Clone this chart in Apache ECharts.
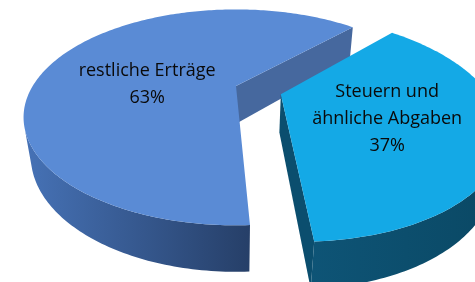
<!DOCTYPE html>
<html>
<head>
<meta charset="utf-8">
<script src="https://cdn.jsdelivr.net/npm/echarts@6/dist/echarts.min.js"></script>
<style>
html, body { margin: 0; padding: 0; background: #fff; }
#main { width: 475px; height: 282px; }
</style>
</head>
<body>
<div id="main"></div>
<script>
var categories = ['restliche Erträge', 'Steuern und\nähnliche Abgaben'];
var values = [63, 37];
var explode = [0, 0.23];

var topColors = ['#5a8bd5', '#14a9e6'];
var sideColors = [['#4672b6', '#263f68'], ['#0e5476', '#0a4864']];
var cutColors = ['#46689e', '#0b4e6e'];

// fake 3d camera (perspective pie like excel)
var cam = { cx: 236, cy: 86, fx: 618, fy: 640, d: 3.04, elev: 28 * Math.PI / 180, h: 0.21 };
var startAngle = 46;
var labelR = [0.45, 0.5];
var labelShift = [[-7, 13], [1, 5]];

function project(X, Y, Z) {
	var s = Math.sin(cam.elev), c = Math.cos(cam.elev);
	var yv = Y * c + Z * s;
	var zv = -Y * s + Z * c;
	var w = cam.d + zv;
	return [cam.cx + cam.fx * X / w, cam.cy - cam.fy * yv / w];
}

var camPos = [0, cam.d * Math.sin(cam.elev), -cam.d * Math.cos(cam.elev)];

function rad(a) { return a * Math.PI / 180; }

function renderItem(params, api) {
	var idx = params.dataIndex;
	var total = 0, before = 0;
	for (var i = 0; i < values.length; i++) {
		total += values[i];
		if (i < idx) before += values[i];
	}
	var v = api.value(0);
	var a0 = startAngle + 360 * before / total;
	var a1 = a0 + 360 * v / total;
	var mid = rad((a0 + a1) / 2);
	var ox = explode[idx] * Math.cos(mid), oz = explode[idx] * Math.sin(mid);
	var h = cam.h;
	var children = [];

	// radial cut walls
	var edges = [
		{ a: rad(a0), n: [Math.sin(rad(a0)), -Math.cos(rad(a0))] },
		{ a: rad(a1), n: [-Math.sin(rad(a1)), Math.cos(rad(a1))] }
	];
	edges.forEach(function (e) {
		var dot = e.n[0] * (camPos[0] - ox) + e.n[1] * (camPos[2] - oz);
		if (dot <= 0) return;
		var ex = ox + Math.cos(e.a), ez = oz + Math.sin(e.a);
		children.push({
			type: 'polygon',
			shape: { points: [project(ox, 0, oz), project(ex, 0, ez), project(ex, -h, ez), project(ox, -h, oz)] },
			style: { fill: cutColors[idx] }
		});
	});

	// outer wall, only parts that face the camera
	var steps = Math.ceil(a1 - a0);
	var run = null, runs = [];
	for (var k = 0; k <= steps; k++) {
		var t = rad(a0 + (a1 - a0) * k / steps);
		var px = ox + Math.cos(t), pz = oz + Math.sin(t);
		var dot = Math.cos(t) * (camPos[0] - px) + Math.sin(t) * (camPos[2] - pz);
		if (dot > 0) {
			if (!run) { run = { top: [], bot: [] }; runs.push(run); }
			run.top.push(project(px, 0, pz));
			run.bot.push(project(px, -h, pz));
		} else {
			run = null;
		}
	}
	runs.forEach(function (r) {
		children.push({
			type: 'polygon',
			shape: { points: r.top.concat(r.bot.slice().reverse()) },
			style: {
				fill: {
					type: 'linear', x: 0, y: 0, x2: 1, y2: 0,
					colorStops: [{ offset: 0, color: sideColors[idx][0] }, { offset: 1, color: sideColors[idx][1] }]
				}
			}
		});
	});

	// top face
	var pts = [project(ox, 0, oz)];
	for (var k = 0; k <= steps; k++) {
		var t = rad(a0 + (a1 - a0) * k / steps);
		pts.push(project(ox + Math.cos(t), 0, oz + Math.sin(t)));
	}
	children.push({ type: 'polygon', shape: { points: pts }, style: { fill: topColors[idx] } });

	// label
	var lp = project(ox + labelR[idx] * Math.cos(mid), 0, oz + labelR[idx] * Math.sin(mid));
	children.push({
		type: 'text',
		x: lp[0] + labelShift[idx][0],
		y: lp[1] + labelShift[idx][1],
		style: {
			text: categories[idx] + '\n' + Math.round(100 * v / total) + '%',
			fill: '#0a0a0a',
			font: '18px "Open Sans"',
			align: 'center',
			verticalAlign: 'middle',
			lineHeight: 27
		}
	});

	return { type: 'group', children: children };
}

var myChart = echarts.init(document.getElementById('main'));
var option = {
	animation: false,
	series: [{
		type: 'custom',
		coordinateSystem: 'none',
		renderItem: renderItem,
		data: values.map(function (v, i) { return { name: categories[i], value: v }; })
	}]
};
myChart.setOption(option);
</script>
</body>
</html>
